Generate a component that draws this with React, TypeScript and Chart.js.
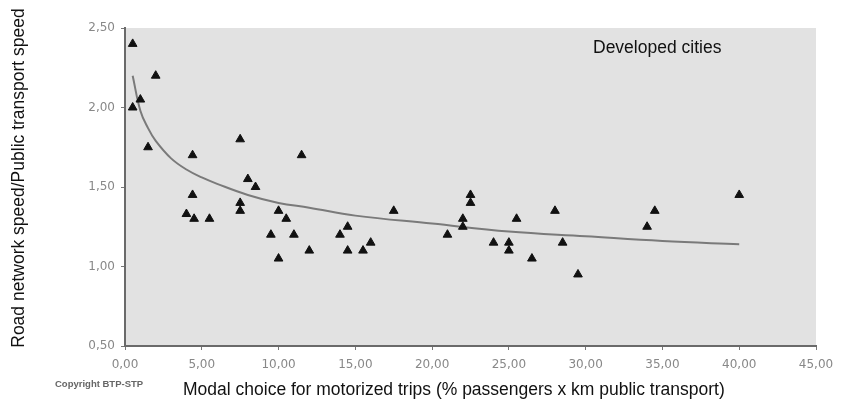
import React, { useEffect, useRef } from "react";
import { Chart, registerables } from "chart.js";

Chart.register(...registerables);

// Observed cities: modal share of public transport (x) vs speed ratio (y)
const cityX = [
  0.5, 0.5, 1.0, 1.5, 2.0, 4.4, 4.0, 4.4, 4.5, 5.5, 7.5, 7.5, 7.5, 8.0, 8.5, 9.5, 10.0, 10.0, 10.5,
  11.0, 11.5, 12.0, 14.0, 14.5, 14.5, 15.5, 16.0, 17.5, 21.0, 22.0, 22.0, 22.5, 22.5, 24.0, 25.0,
  25.0, 25.5, 26.5, 28.0, 28.5, 29.5, 34.0, 34.5, 40.0,
];
const cityY = [
  2.4, 2.0, 2.05, 1.75, 2.2, 1.7, 1.33, 1.45, 1.3, 1.3, 1.8, 1.4, 1.35, 1.55, 1.5, 1.2, 1.35, 1.05, 1.3,
  1.2, 1.7, 1.1, 1.2, 1.25, 1.1, 1.1, 1.15, 1.35, 1.2, 1.3, 1.25, 1.45, 1.4, 1.15, 1.15,
  1.1, 1.3, 1.05, 1.35, 1.15, 0.95, 1.25, 1.35, 1.45,
];

// Trend curve
const trendX = [0.5, 1, 1.5, 2, 3, 4, 5, 6, 8, 10, 12, 15, 20, 25, 30, 35, 40];
const trendY = [2.2, 1.98, 1.87, 1.79, 1.68, 1.61, 1.56, 1.52, 1.45, 1.4, 1.37, 1.32, 1.27, 1.22, 1.19, 1.16, 1.14];

const xTicks = [0, 5, 10, 15, 20, 25, 30, 35, 40, 45];
const yTicks = [0.5, 1.0, 1.5, 2.0, 2.5];

const xTitle = "Modal choice for motorized trips (% passengers x km public transport)";
const yTitle = "Road network speed/Public transport speed";
const panelNote = "Developed cities";
const copyright = "Copyright BTP-STP";

const fmt = (v: number) => v.toFixed(2).replace(".", ",");

export default function App() {
  const ref = useRef<HTMLCanvasElement | null>(null);

  useEffect(() => {
    if (!ref.current) return;
    const textPlugin = {
      id: "texts",
      beforeDraw(chart: any) {
        const { ctx, chartArea } = chart;
        ctx.save();
        ctx.fillStyle = "#e2e2e2";
        ctx.fillRect(chartArea.left, chartArea.top, chartArea.right - chartArea.left, chartArea.bottom - chartArea.top);
        ctx.restore();
      },
      afterDraw(chart: any) {
        const { ctx } = chart;
        ctx.save();
        ctx.fillStyle = "#111";
        ctx.font = '17.5px "Liberation Sans", Arial, sans-serif';
        ctx.textBaseline = "middle";
        ctx.textAlign = "left";
        ctx.fillText(panelNote, 593, 48);
        ctx.fillText(xTitle, 183, 390);
        ctx.save();
        ctx.translate(19, 178);
        ctx.rotate(-Math.PI / 2);
        ctx.textAlign = "center";
        ctx.fillText(yTitle, 0, 0);
        ctx.restore();
        ctx.fillStyle = "#666";
        ctx.font = 'bold 9.5px "Liberation Sans", Arial, sans-serif';
        ctx.textAlign = "left";
        ctx.fillText(copyright, 55, 384);
        ctx.restore();
      },
    };

    const tickFont = { size: 12, family: '"DejaVu Sans", sans-serif' };

    const chart = new Chart(ref.current, {
      type: "scatter",
      data: {
        datasets: [
          {
            type: "line",
            label: "trend",
            data: trendX.map((x, i) => ({ x, y: trendY[i] })),
            borderColor: "#7a7a7a",
            borderWidth: 2,
            pointRadius: 0,
            tension: 0.4,
            fill: false,
            order: 2,
          } as any,
          {
            label: "cities",
            data: cityX.map((x, i) => ({ x, y: cityY[i] })),
            pointStyle: "triangle",
            pointRadius: 5,
            backgroundColor: "#111",
            borderColor: "#111",
            borderWidth: 1,
            order: 1,
          },
        ],
      },
      options: {
        responsive: false,
        animation: false,
        devicePixelRatio: 1,
        layout: { padding: { left: 0, right: 27, top: 28, bottom: 0 } },
        plugins: { legend: { display: false }, tooltip: { enabled: false } },
        scales: {
          x: {
            type: "linear",
            min: 0,
            max: 45,
            afterBuildTicks: (s: any) => {
              s.ticks = xTicks.map((v) => ({ value: v }));
            },
            afterFit: (s: any) => {
              s.height = 61;
            },
            ticks: {
              callback: (v: any) => fmt(Number(v)),
              color: "#888",
              font: tickFont,
              padding: 8,
              maxRotation: 0,
            },
            grid: { drawOnChartArea: false, drawTicks: true, tickLength: 4, color: "#777" },
            border: { display: true, color: "#6a6a6a", width: 2 },
          },
          y: {
            type: "linear",
            min: 0.5,
            max: 2.5,
            afterBuildTicks: (s: any) => {
              s.ticks = yTicks.map((v) => ({ value: v }));
            },
            afterFit: (s: any) => {
              s.width = 125;
            },
            ticks: {
              callback: (v: any) => fmt(Number(v)),
              color: "#888",
              font: tickFont,
              padding: 6,
            },
            grid: { drawOnChartArea: false, drawTicks: true, tickLength: 4, color: "#777" },
            border: { display: true, color: "#6a6a6a", width: 2 },
          },
        },
      },
      plugins: [textPlugin],
    } as any);
    return () => chart.destroy();
  }, []);

  return (
    <div style={{ position: "fixed", left: 0, top: 0, width: 843, height: 407, background: "#fff" }}>
      <canvas ref={ref} width={843} height={407} style={{ width: 843, height: 407, display: "block" }} />
    </div>
  );
}
